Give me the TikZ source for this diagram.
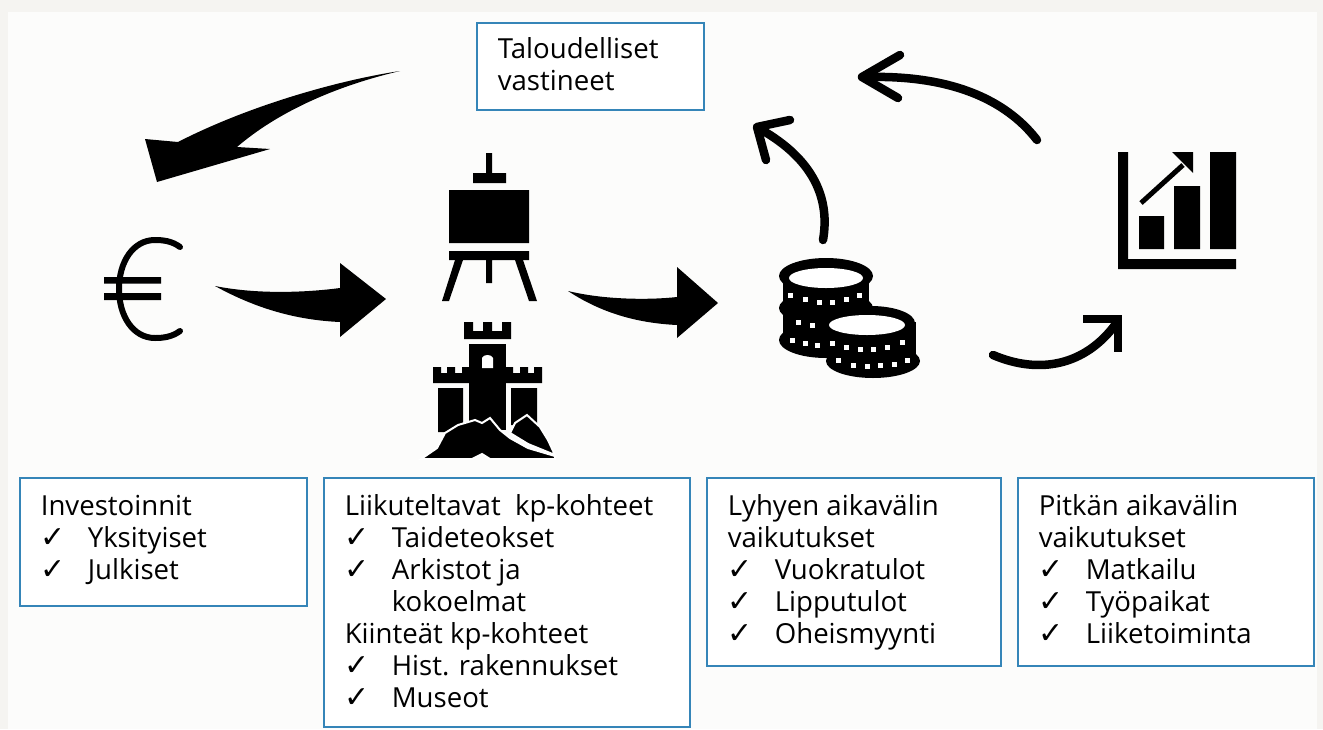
\documentclass[tikz,border=0pt]{standalone}
\usepackage{fontspec}
\setmainfont{Open Sans}
\newfontfamily\symf{DejaVu Sans}
\definecolor{boxblue}{HTML}{3585B8}
\definecolor{bgedge}{HTML}{F5F4F1}
\definecolor{bgmain}{HTML}{FCFCFB}
\newcommand{\ck}[1]{\makebox[0pt][l]{\hspace{0pt}{\symf\fontsize{30}{32}\selectfont ✓}}\hspace{#1}}
\tikzset{
  infobox/.style={draw=boxblue,line width=2.6pt,fill=white,anchor=north west,inner sep=0pt,align=left},
  icon/.style={fill=black,draw=none},
  thinarrow/.style={line width=8.5pt,draw=black,line cap=round,line join=miter},
  swoosh/.style={fill=black,draw=none}
}
\newcommand{\boxtext}[4]{\parbox[c][#2pt][t]{#1pt}{\fontsize{27.6}{32}\selectfont\leftskip=21pt\vspace*{#3pt}#4\par}}
\begin{document}
\begin{tikzpicture}[x=1pt,y=-1pt]
\useasboundingbox (0,0) rectangle (1323,729);
\fill[bgedge] (0,0) rectangle (1323,729);
\fill[bgmain] (8,12) rectangle (1317,729);

% boxes
\node[infobox] (talous) at (475.5,21.5) {\boxtext{227}{87}{15}{Taloudelliset\\vastineet}};
\node[infobox] (inv) at (18.5,476.5) {\boxtext{287}{128}{17}{Investoinnit\\\ck{47pt}Yksityiset\\\ck{47pt}Julkiset}};
\node[infobox] (kp) at (322.5,476.5) {\boxtext{366}{249}{17}{Liikuteltavat\ \ kp-kohteet\\\ck{47pt}Taideteokset\\\ck{47pt}Arkistot ja\\\hspace*{47pt}kokoelmat\\Kiinteät kp-kohteet\\\ck{47pt}Hist. rakennukset\\\ck{47pt}Museot}};
\node[infobox] (lyhyt) at (705.5,476.5) {\boxtext{294}{188}{17}{Lyhyen aikavälin\\vaikutukset\\\ck{47pt}Vuokratulot\\\ck{47pt}Lipputulot\\\ck{47pt}Oheismyynti}};
\node[infobox] (pitka) at (1016.5,476.5) {\boxtext{296}{188}{17}{Pitkän aikavälin\\vaikutukset\\\ck{47pt}Matkailu\\\ck{47pt}Työpaikat\\\ck{47pt}Liiketoiminta}};

% euro
\draw[line width=6pt,line cap=round] (180,247) .. controls (172,241) and (163,240) .. (155,240) .. controls (133,240) and (119,262) .. (119,289) .. controls (119,316) and (133,338) .. (155,338) .. controls (163,338) and (172,337) .. (180,331);
\fill[icon] (104,277) rectangle (161,283.5) (104,293) rectangle (161,300);

% easel
\fill[icon] (486,153) rectangle (492,173) (473,173) rectangle (506,183) (449,190) rectangle (529,243) (449,251) rectangle (529,260) (486,260) rectangle (492,283);
\fill[icon] (455,260) -- (463,260) -- (449,301) -- (442,301) -- cycle;
\fill[icon] (515,260) -- (523,260) -- (537,301) -- (529,301) -- cycle;

% castle
\fill[icon] (464,322) -- (473,322) -- (473,331) -- (483,331) -- (483,322) -- (492,322) -- (492,331) -- (502,331) -- (502,322) -- (511,322) -- (511,339) -- (464,339) -- cycle;
\fill[icon] (469,344) rectangle (506,430);
\fill[white] (482,368) -- (482,358) .. controls (483,354) and (492,354) .. (493,358) -- (493,368) -- cycle;
\fill[icon] (433,367) -- (441,367) -- (441,373) -- (447,373) -- (447,367) -- (455,367) -- (455,373) -- (462,373) -- (462,367) -- (469,367) -- (469,383) -- (433,383) -- cycle;
\fill[icon] (506,367) -- (513,367) -- (513,373) -- (520,373) -- (520,367) -- (528,367) -- (528,373) -- (534,373) -- (534,367) -- (542,367) -- (542,383) -- (506,383) -- cycle;
\fill[icon] (438,388) rectangle (463,432) (511,388) rectangle (537,425);
\draw[white,line width=2pt,fill=black] (510,433) -- (515,423) -- (527,415) -- (540,427) -- (548,440) -- (555,455) -- (528,444) -- cycle;
\draw[white,line width=2pt,fill=black] (421,459) -- (437,448) -- (445,433) -- (458,425) -- (475,420) -- (482,423) -- (490,418) -- (500,430) -- (510,438) -- (528,448) -- (555,456) -- (555,459) -- (490,459) -- (482,454) -- (472,459) -- cycle;

% coins, left stack
\fill[icon] (783,276) rectangle (869,340);
\fill[icon] (826,276) ellipse [x radius=47,y radius=18];
\fill[icon] (826,308) ellipse [x radius=47,y radius=17];
\fill[icon] (826,340) ellipse [x radius=47,y radius=18];
\fill[white] (826,278) ellipse [x radius=37,y radius=10];
% coins, right stack
\fill[icon] (831,322) rectangle (916,361);
\fill[icon] (871,323) ellipse [x radius=44,y radius=17];
\fill[icon] (873,361) ellipse [x radius=47,y radius=17];
\fill[white] (867,325) ellipse [x radius=38,y radius=10];
\foreach \p in {(790,295),(805,299),(819,302),(832,302),(846,299),(859,295),(798,322),(812,325),(792,340),(805,343),(817,345),(832,343),(846,347),(860,349),(873,349),(887,347),(902,342),(838,360),(853,365),(867,366),(880,365),(894,364),(907,360)}
  \fill[white] \p ++(-2.5,-2.5) rectangle ++(5,5);

% chart
\fill[icon] (1118,152) rectangle (1128,269) (1118,259) rectangle (1236,269) (1139,216) rectangle (1164,249) (1174,186) rectangle (1200,249) (1210,152) rectangle (1236,249);
\draw[line width=5pt] (1141,203) -- (1183,165);
\fill[icon] (1172,152) -- (1193,152) -- (1193,173) -- cycle;

% swoosh arrows
\coordinate (s1) at (400,71);
\fill[swoosh] (s1) .. controls (340,80) and (250,105) .. (178,142) -- (145,139) -- (157,182) -- (270,149) -- (237,147) .. controls (280,110) and (340,85) .. (s1) -- cycle;
\coordinate (s2) at (215,286);
\fill[swoosh] (s2) .. controls (260,295) and (310,292) .. (340,288) -- (340,263) -- (386,299) -- (340,337) -- (340,322) .. controls (295,320) and (255,308) .. (s2) -- cycle;
\coordinate (s3) at (568,291);
\fill[swoosh] (s3) .. controls (605,300) and (650,300) .. (677,297) -- (677,267) -- (718,303) -- (677,338) -- (677,325) .. controls (635,323) and (600,312) .. (s3) -- cycle;

% curved arrows
\draw[thinarrow] (823,240) .. controls (830,200) and (815,160) .. (760,129);
\draw[thinarrow,line join=round] (790,120) -- (757,127) -- (766,160);
\draw[thinarrow] (1037,140) .. controls (1010,105) and (960,75) .. (868,77);
\draw[thinarrow,line join=round] (900,55) -- (862,77) -- (898,98);
\draw[thinarrow] (993,355) .. controls (1040,375) and (1085,365) .. (1115,325);
\draw[thinarrow,line cap=butt] (1083,319) -- (1118,319) -- (1118,352);
\end{tikzpicture}
\end{document}
